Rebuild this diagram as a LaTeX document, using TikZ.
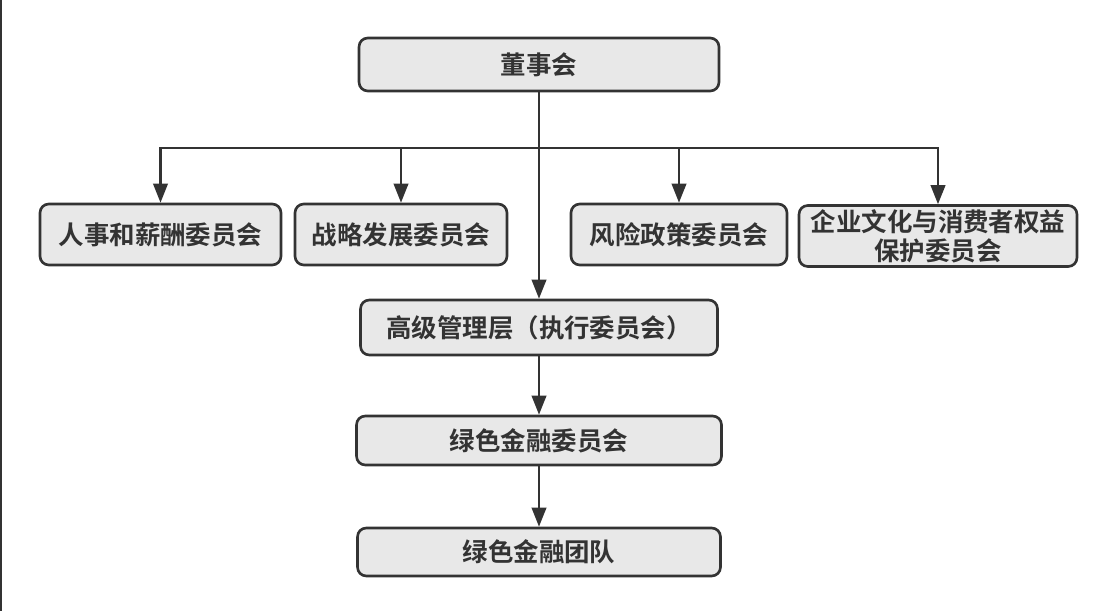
\documentclass[tikz,border=0pt]{standalone}
\usepackage{fontspec}
\newfontfamily\cjk{Noto Sans CJK SC}[BoldFont={Noto Sans CJK SC Bold}]
\usepackage{tikz}
\usetikzlibrary{arrows.meta}

\definecolor{boxfill}{HTML}{E8E8E8}
\definecolor{ink}{HTML}{333333}

\tikzset{
  orgbox/.style={draw=ink, line width=1.5pt, fill=boxfill, rounded corners=5pt,
    text=ink, font=\cjk\bfseries\fontsize{14.5}{16.5}\selectfont, inner sep=0pt,
    align=center},
  link/.style={ink, line width=1.3pt, -{Triangle[length=0.38cm,width=0.29cm]}}
}

\begin{document}
\begin{tikzpicture}[x=0.02cm,y=-0.02cm]
\useasboundingbox (0,0) rectangle (1112,611);
\fill[white] (0,0) rectangle (1112,611);
\fill[ink] (0,0) rectangle (2.5,611);

% top level
\node[orgbox, minimum width=7.2cm, minimum height=1.06cm] (board) at (539,64.5) {董事会};

% committees of the board
\node[orgbox, minimum width=4.82cm, minimum height=1.22cm] (hr) at (160.5,234.5) {人事和薪酬委员会};
\node[orgbox, minimum width=4.24cm, minimum height=1.22cm] (strat) at (401,234.5) {战略发展委员会};
\node[orgbox, minimum width=4.32cm, minimum height=1.22cm] (risk) at (679,234.5) {风险政策委员会};
\node[orgbox, minimum width=5.56cm, minimum height=1.22cm] (culture) at (938,236) {企业文化与消费者权益\\保护委员会};

% management chain
\node[orgbox, minimum width=7.14cm, minimum height=1.1cm] (mgmt) at (539,327.5) {高级管理层（执行委员会）};
\node[orgbox, minimum width=7.3cm, minimum height=0.98cm] (gfc) at (539,440.5) {绿色金融委员会};
\node[orgbox, minimum width=7.26cm, minimum height=0.96cm] (team) at (539,552) {绿色金融团队};

\coordinate (bar) at (539,148);

\draw[link] (board.south) -- (mgmt.north);
\draw[link] (bar) -| (hr.north);
\draw[link] (bar) -| (strat.north);
\draw[link] (bar) -| (risk.north);
\draw[link] (bar) -| (culture.north);
\draw[link] (mgmt.south) -- (gfc.north);
\draw[link] (gfc.south) -- (team.north);
\end{tikzpicture}
\end{document}
